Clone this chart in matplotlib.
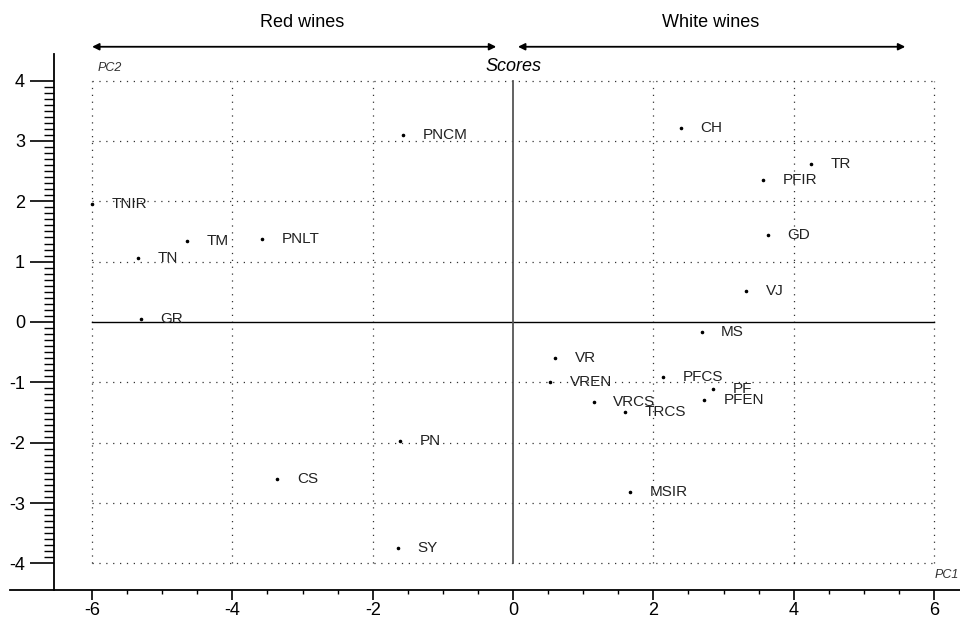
import matplotlib.pyplot as plt
from matplotlib.ticker import FixedLocator

plt.rcParams['font.family'] = ['Liberation Sans', 'DejaVu Sans']
plt.rcParams['axes.unicode_minus'] = False

# PCA scores of the wine samples
names = ['PNCM', 'CH', 'TR', 'PFIR', 'TNIR', 'GD', 'TM', 'PNLT', 'TN', 'VJ',
         'GR', 'MS', 'VR', 'VREN', 'PFCS', 'PF', 'PFEN', 'VRCS', 'TRCS',
         'PN', 'CS', 'MSIR', 'SY']
pc1 = [-1.57, 2.39, 4.25, 3.56, -6.00, 3.63, -4.65, -3.58, -5.34, 3.32,
       -5.30, 2.69, 0.60, 0.53, 2.14, 2.85, 2.72, 1.15, 1.60,
       -1.61, -3.36, 1.67, -1.64]
pc2 = [3.10, 3.21, 2.62, 2.35, 1.95, 1.44, 1.34, 1.37, 1.06, 0.51,
       0.05, -0.17, -0.60, -1.00, -0.91, -1.11, -1.29, -1.32, -1.49,
       -1.97, -2.60, -2.81, -3.74]

grid_x = [-6, -4, -2, 2, 4, 6]
grid_y = [-4, -3, -2, -1, 1, 2, 3, 4]

fig = plt.figure(figsize=(9.6, 6.18), dpi=100)
ax = fig.add_axes([10 / 960, 28 / 618, 950 / 960, 536 / 618])
ax.set_xlim(-7.17, 6.37)
ax.set_ylim(-4.44, 4.44)

# dotted grid inside the -6..6 / -4..4 box
ax.hlines(grid_y, -6, 6, colors='#333333', linestyles=(0, (1, 4.5)), linewidth=0.9)
ax.vlines(grid_x, -4, 4, colors='#333333', linestyles=(0, (1, 4.5)), linewidth=0.9)
ax.plot([-6, 6], [0, 0], color='black', linewidth=1.0)
ax.plot([0, 0], [-4, 4], color='#555555', linewidth=1.3)

ax.scatter(pc1, pc2, s=2.5, color='black', zorder=3)
for n, x, y in zip(names, pc1, pc2):
    ax.annotate(n, (x, y), xytext=(14, 0), textcoords='offset points',
                va='center', ha='left', fontsize=11, color='#222222')

# spines and ticks
for s in ['top', 'right']:
    ax.spines[s].set_visible(False)
ax.spines['left'].set_position(('data', -6.54))
ax.spines['left'].set_linewidth(1.3)
ax.spines['bottom'].set_linewidth(1.3)

ax.set_xticks(range(-6, 7, 2))
ax.xaxis.set_minor_locator(FixedLocator([v / 2 for v in range(-12, 13) if v % 4 != 0]))
ax.set_yticks(range(-4, 5))
ax.yaxis.set_minor_locator(FixedLocator([v / 10 for v in range(-40, 41) if v % 10 != 0]))
ax.tick_params(axis='y', which='major', length=17, width=1.2, pad=4, labelsize=13)
ax.tick_params(axis='y', which='minor', length=7, width=1.0)
ax.tick_params(axis='x', which='major', length=7, width=1.2, pad=1.5, labelsize=13)
ax.tick_params(axis='x', which='minor', length=3, width=1.0)

# axis names and title
ax.text(-5.92, 4.2, 'PC2', style='italic', fontsize=9, color='#333333', va='center')
ax.text(6.35, -4.19, 'PC1', style='italic', fontsize=9, color='#333333',
        va='center', ha='right')
ax.text(0, 4.24, 'Scores', style='italic', fontsize=13, va='center', ha='center')

# wine type arrows
arrow_y = 4.56
ax.annotate('', xy=(-0.24, arrow_y), xytext=(-6.0, arrow_y), annotation_clip=False,
            arrowprops=dict(arrowstyle='<|-|>', color='black', lw=1.3,
                            mutation_scale=10, shrinkA=0, shrinkB=0))
ax.annotate('', xy=(5.59, arrow_y), xytext=(0.07, arrow_y), annotation_clip=False,
            arrowprops=dict(arrowstyle='<|-|>', color='black', lw=1.3,
                            mutation_scale=10, shrinkA=0, shrinkB=0))
ax.text(-3.0, 4.97, 'Red wines', fontsize=13, ha='center', va='center', clip_on=False)
ax.text(2.82, 4.97, 'White wines', fontsize=13, ha='center', va='center', clip_on=False)

fig.savefig('out.png', dpi=100)
